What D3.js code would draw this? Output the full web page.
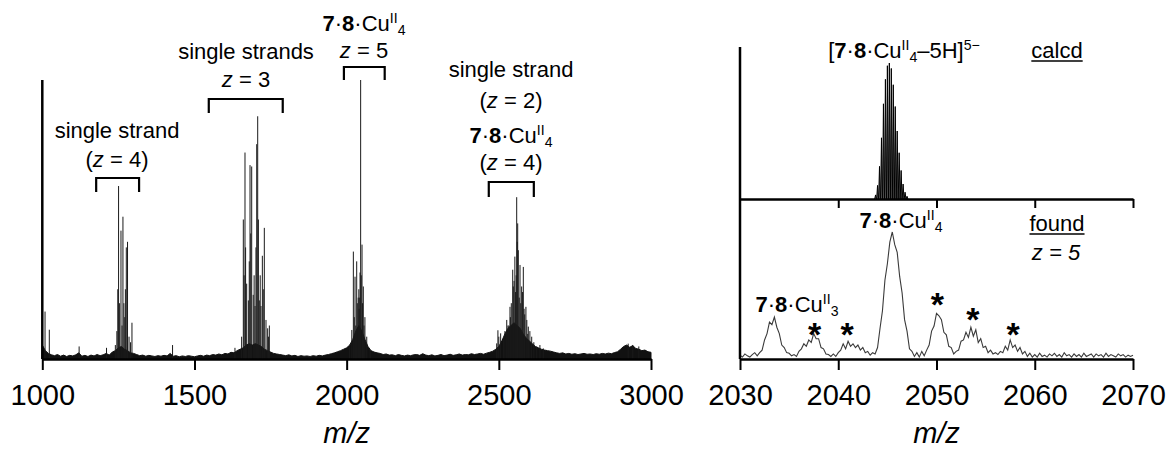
<!DOCTYPE html>
<html>
<head>
<meta charset="utf-8">
<script src="https://cdn.jsdelivr.net/npm/d3@7"></script>
<style>
  body { margin: 0; background: #fff; }
  svg { display: block; font-family: "Liberation Sans", Arial, Helvetica, sans-serif; }
</style>
</head>
<body>
<svg id="chart"></svg>
<script>
const WIDTH = 1170,
    HEIGHT = 449;

// ---- datos panel izquierdo (espectro completo) ----
const xTicksL = [1000, 1500, 2000, 2500, 3000];

// ruido de linea base, muestreado cada 10 m/z desde 1000
const noiseStart = 1000, noiseStep = 10;
const noiseInt = [
    5, 3, 2, 1.5, 1.2, 1.6, 1.0, 1.4, 0.9, 1.3,
    1.1, 1.5, 2.2, 1.0, 1.3, 0.9, 1.4, 1.1, 1.6, 1.2,
    1.5, 2.0, 1.4, 2.5, 3.0, 4.0, 4.5, 3.5, 3.0, 2.2,
    2.0, 1.6, 1.2, 1.4, 1.0, 1.3, 1.1, 0.9, 1.2, 1.0,
    1.3, 1.1, 2.0, 1.0, 1.2, 0.8, 1.1, 0.9, 1.2, 1.0,
    0.8, 1.1, 1.3, 1.0, 1.4, 1.2, 1.6, 1.4, 1.8, 1.5,
    2.0, 1.8, 2.4, 2.2, 3.0, 3.5, 4.0, 5.0, 5.5, 5.0,
    5.5, 5.0, 4.5, 3.5, 3.0, 2.5, 2.0, 1.8, 1.6, 1.4,
    1.2, 1.5, 1.1, 1.3, 0.9, 1.2, 1.0, 1.1, 0.9, 1.2,
    1.0, 1.3, 1.1, 1.4, 1.6, 1.9, 2.2, 2.6, 3.0, 3.5,
    4.0, 5.0, 7, 10, 12, 10, 7, 4.5, 3.0, 2.5,
    2.2, 2.0, 1.6, 1.8, 1.4, 1.5, 1.2, 1.6, 1.3, 1.1,
    1.4, 1.2, 1.5, 1.6, 1.3, 1.9, 1.4, 1.2, 1.5, 1.1,
    1.3, 1.6, 1.2, 1.4, 1.7, 1.3, 1.5, 1.8, 1.4, 1.6,
    1.5, 1.9, 1.6, 1.8, 2.0, 1.7, 2.1, 2.4, 2.8, 3.5,
    4.5, 6.5, 9, 11, 12, 13, 12, 11, 9, 7.5,
    6.5, 5.5, 4.5, 4.0, 3.5, 3.2, 3.0, 2.8, 2.5, 2.2,
    2.0, 2.2, 1.8, 2.0, 1.7, 1.9, 1.6, 1.8, 2.0, 1.7,
    1.8, 1.6, 1.9, 1.7, 2.0, 1.8, 2.1, 1.9, 2.3, 2.6,
    3.5, 4.5, 5.0, 4.2, 4.8, 3.8, 3.5, 3.0, 3.2, 2.6,
    2.4
];

// picos (m/z, intensidad %)
const stickMz = [
    1009, 1023, 1121, 1211, 1240, 1428,
    1245, 1248, 1250.6, 1254, 1258.5, 1262, 1265, 1268, 1271, 1273, 1276, 1280, 1285, 1290, 1294.6,
    1633, 1655, 1660.5, 1663, 1666, 1668, 1671.5, 1677, 1680, 1682.5, 1685, 1688, 1693, 1696,
    1699, 1702, 1704.5, 1707.7, 1710, 1713, 1716, 1718.5, 1723, 1726, 1729.5, 1735, 1740.5, 1743, 1746,
    2009, 2017, 2022, 2025, 2027.5, 2030, 2033, 2035, 2038, 2040, 2041, 2043, 2044, 2046, 2048,
    2050.5, 2052, 2054.7, 2057, 2060, 2066, 2077,
    2493, 2497, 2500, 2506, 2515, 2520, 2526, 2530, 2533, 2536.7, 2538, 2541, 2545.6, 2547.5, 2550,
    2552.7, 2555, 2557, 2558.7, 2560.5, 2562, 2564, 2567, 2569.6, 2572, 2575, 2578, 2580.5, 2583,
    2585, 2589, 2592, 2595, 2596.8, 2602, 2608, 2615, 2624.5, 2635, 2646,
    2925, 2940, 2960
];
const stickInt = [
    17, 10.5, 4.5, 4, 5, 5,
    10, 25, 62, 20, 46, 12, 51, 20, 15, 25, 40, 42, 8, 6, 13,
    4, 8, 50, 30, 74, 40, 27, 21, 35, 69.5, 45, 69, 23, 30,
    19, 40, 77, 87, 50, 21, 30, 19, 37, 25, 47, 14, 11, 8, 12,
    4.4, 10.4, 38.5, 15, 29.5, 12, 35, 20, 22, 25, 18, 22, 31, 100, 30,
    41, 20, 26, 12, 15, 8, 3.2,
    5.6, 10.3, 8, 9.2, 7, 10, 14, 12, 12, 18.7, 15, 20, 32, 26, 28,
    36.7, 24, 30, 58, 42, 48.6, 39, 22, 33.7, 20, 26, 24, 33, 18,
    16, 18.7, 14, 9, 11.6, 10, 8, 6, 4.4, 5, 3.8,
    5.5, 5, 4.5
];

// ---- datos panel derecho ----
const xTicksR = [2030, 2040, 2050, 2060, 2070];

// calculado: patron isotopico [7·8·Cu4–5H]5−
const calcMz = [2043.8, 2044.0, 2044.2, 2044.4, 2044.6, 2044.8, 2045.0, 2045.2, 2045.4,
    2045.6, 2045.8, 2046.0, 2046.2, 2046.4, 2046.6, 2046.8, 2047.0];
const calcInt = [3, 10, 24, 45, 70, 88, 98, 100, 96, 84, 68, 50, 34, 21, 11, 5, 2];

// encontrado: muestreado cada 0.25 m/z desde 2030
const foundStart = 2030, foundStep = 0.25;
const foundInt = [
    3, 1.5, 4, 2.5, 1.5, 3.5, 5, 2.5,
    5, 7, 15, 20, 29, 27, 33, 25,
    20, 11, 9, 5, 4.5, 2.5, 3.5, 2,
    6, 8, 12, 10, 15, 13, 20, 16,
    16, 9, 8, 4, 3.5, 2, 4, 2,
    5, 7, 12, 8, 14, 10, 12, 9,
    11, 7, 9, 5, 6, 3, 5, 4,
    9, 24, 38, 62, 75, 92, 100, 90,
    84, 65, 52, 31, 22, 8, 6, 2,
    5, 1.5, 6, 2.5, 7, 11, 22, 26,
    36, 34, 31, 21, 19, 10, 9, 4,
    6, 7, 14, 15, 21, 17, 25, 18,
    23, 13, 16, 9, 10, 5, 7, 4,
    5, 3.5, 6, 5, 10, 7, 15, 9,
    11, 6, 9, 4, 6, 2, 4.5, 1.5,
    3.5, 1.5, 4.5, 2, 3, 1.5, 4, 2.5,
    4.5, 2, 3.5, 1.5, 5, 2.5, 3.5, 1.5,
    4, 2, 3.5, 1.5, 4.5, 2, 3, 4,
    1.5, 4, 2.5, 3.5, 1.5, 4.5, 2, 3.5,
    2.5, 1.5, 4, 2.5, 3.5, 1.5, 3, 2, 3
];

// asteriscos: m/z y altura (en unidades de intensidad del panel "found")
const starMz = [2037.6, 2040.9, 2050.1, 2053.7, 2057.8];
const starLevel = [25, 25, 49, 37, 25];

const svg = d3.select("#chart")
    .attr("width", WIDTH)
    .attr("height", HEIGHT);

svg.append("rect").attr("width", WIDTH).attr("height", HEIGHT).attr("fill", "#fff");

const xL = d3.scaleLinear().domain([1000, 3000]).range([42.3, 651]);
const yL = d3.scaleLinear().domain([0, 100]).range([359, 80]);

const xR = d3.scaleLinear().domain([2030, 2070]).range([740, 1133]);
const yCalc = d3.scaleLinear().domain([0, 100]).range([199, 63]);
const yFound = d3.scaleLinear().domain([0, 100]).range([359, 232]);

// texto con negrita / cursiva / super- y subindices
const rich = (x, y, parts, size, anchor = "middle") => {
    const t = svg.append("text")
        .attr("x", x).attr("y", y)
        .attr("text-anchor", anchor)
        .attr("font-size", size)
        .attr("fill", "#000");
    let cur = 0;
    parts.forEach(p => {
        const [txt, st] = typeof p === "string" ? [p, ""] : p;
        const off = st.includes("^") ? -0.36 * size : st.includes("_") ? 0.2 * size : 0;
        const small = st.includes("^") || st.includes("_");
        t.append("tspan")
            .attr("dy", off - cur)
            .attr("font-size", small ? size * 0.64 : size)
            .attr("font-weight", st.includes("b") ? "bold" : null)
            .attr("font-style", st.includes("i") ? "italic" : null)
            .text(txt);
        cur = off;
    });
    return t;
};

const cu4 = [["7", "b"], "·", ["8", "b"], "·Cu", ["II", "^"], ["4", "_"]];
const cu3 = [["7", "b"], "·", ["8", "b"], "·Cu", ["II", "^"], ["3", "_"]];

// ---------- panel izquierdo ----------
const noiseData = noiseInt.map((v, i) => ({ mz: noiseStart + i * noiseStep, v }));

svg.append("path")
    .datum(noiseData)
    .attr("fill", "#111")
    .attr("stroke", "#111")
    .attr("stroke-width", 1)
    .attr("d", d3.area().x(d => xL(d.mz)).y0(yL(0)).y1(d => yL(d.v)));

svg.append("g")
    .selectAll("line")
    .data(stickMz.map((mz, i) => ({ mz, v: stickInt[i] })))
    .join("line")
    .attr("x1", d => xL(d.mz))
    .attr("x2", d => xL(d.mz))
    .attr("y1", yL(0))
    .attr("y2", d => yL(d.v))
    .attr("stroke", "#1a1a1a")
    .attr("stroke-width", 1);

const ejeL = svg.append("g")
    .attr("transform", `translate(0 ${yL(0)})`)
    .call(d3.axisBottom(xL).tickValues(xTicksL).tickFormat(d3.format("d"))
        .tickSize(11).tickSizeOuter(0).tickPadding(14));

svg.append("line")
    .attr("x1", xL(1000)).attr("x2", xL(1000))
    .attr("y1", yL(100)).attr("y2", yL(0))
    .attr("stroke", "#000").attr("stroke-width", 2.5);

// ---------- panel derecho ----------
const calcPts = [];
calcMz.forEach((mz, i) => {
    calcPts.push([mz - 0.09, 0], [mz, calcInt[i]], [mz + 0.09, 0]);
});
svg.append("path")
    .datum(calcPts)
    .attr("fill", "#000")
    .attr("fill-opacity", 0.6)
    .attr("stroke", "#000")
    .attr("stroke-width", 1)
    .attr("d", d3.line().x(d => xR(d[0])).y(d => yCalc(d[1])));

const foundData = foundInt.map((v, i) => ({ mz: foundStart + i * foundStep, v }));
svg.append("path")
    .datum(foundData)
    .attr("fill", "none")
    .attr("stroke", "#3a3a3a")
    .attr("stroke-width", 1.1)
    .attr("d", d3.line().x(d => xR(d.mz)).y(d => yFound(d.v)));

const ejeCalc = svg.append("g")
    .attr("transform", `translate(0 ${yCalc(0)})`)
    .call(d3.axisBottom(xR).tickValues(xTicksR.slice(1)).tickSize(9).tickSizeOuter(0).tickFormat(""));

const ejeR = svg.append("g")
    .attr("transform", `translate(0 ${yFound(0)})`)
    .call(d3.axisBottom(xR).tickValues(xTicksR).tickFormat(d3.format("d"))
        .tickSize(11).tickSizeOuter(0).tickPadding(14));

svg.append("line")
    .attr("x1", xR(2030)).attr("x2", xR(2030))
    .attr("y1", 47).attr("y2", yFound(0))
    .attr("stroke", "#000").attr("stroke-width", 2.5);

[ejeL, ejeR, ejeCalc].forEach(g => {
    g.select(".domain").attr("stroke", "#000").attr("stroke-width", 2.5);
    g.selectAll(".tick line").attr("stroke", "#000").attr("stroke-width", 2);
    g.selectAll(".tick text")
        .attr("fill", "#000")
        .attr("font-size", 29)
        .attr("font-family", "\"Liberation Sans\", Arial, sans-serif");
});

// etiquetas de ejes
rich(xL(2000), 443, [["m/z", "i"]], 29);
rich(xR(2050), 443, [["m/z", "i"]], 29);

// ---------- anotaciones panel izquierdo ----------
const brackets = [
    { a: 1177, b: 1318, top: 178, bot: 192 },
    { a: 1547, b: 1790, top: 99, bot: 113 },
    { a: 1991, b: 2125, top: 67, bot: 80 },
    { a: 2467, b: 2615, top: 182, bot: 197 }
];
svg.append("g")
    .selectAll("path")
    .data(brackets)
    .join("path")
    .attr("fill", "none")
    .attr("stroke", "#000")
    .attr("stroke-width", 2.2)
    .attr("d", d => `M${xL(d.a)},${d.bot}V${d.top}H${xL(d.b)}V${d.bot}`);

const FS = 22;
rich(117, 138, ["single strand"], FS);
rich(117, 167, ["(", ["z", "i"], " = 4)"], FS);
rich(246, 59, ["single strands"], FS);
rich(246, 87, [["z", "i"], " = 3"], FS);
rich(364, 31, cu4, FS);
rich(364, 58, [["z", "i"], " = 5"], FS);
rich(511, 77, ["single strand"], FS);
rich(511, 108, ["(", ["z", "i"], " = 2)"], FS);
rich(511, 143, cu4, FS);
rich(511, 170, ["(", ["z", "i"], " = 4)"], FS);

// ---------- anotaciones panel derecho ----------
rich(904, 58, ["[", ["7", "b"], "·", ["8", "b"], "·Cu", ["II", "^"], ["4", "_"], "–5H]", ["5−", "^"]], FS);
const calcd = rich(1057, 58, ["calcd"], FS);
const found = rich(1057, 231, ["found"], FS);
[[calcd, 61], [found, 234]].forEach(([t, y]) => {
    const bb = t.node().getBBox();
    svg.append("line")
        .attr("x1", bb.x).attr("x2", bb.x + bb.width)
        .attr("y1", y).attr("y2", y)
        .attr("stroke", "#000").attr("stroke-width", 1.5);
});
rich(1056, 260, [["z = 5", "i"]], FS);
rich(901, 228, cu4, FS);
rich(797, 312, cu3, FS);

svg.append("g")
    .selectAll("text")
    .data(starMz.map((mz, i) => ({ mz, v: starLevel[i] })))
    .join("text")
    .attr("x", d => xR(d.mz))
    .attr("y", d => yFound(d.v) + 19)
    .attr("text-anchor", "middle")
    .attr("font-size", 34)
    .attr("font-weight", "bold")
    .text("*");
</script>
</body>
</html>
